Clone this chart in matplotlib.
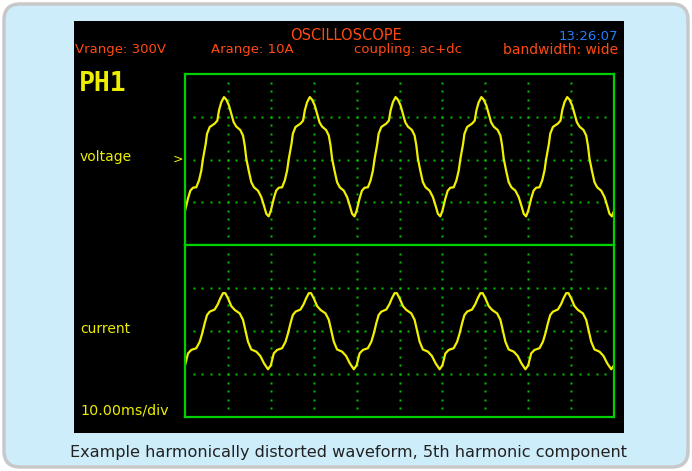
import numpy as np
import matplotlib
matplotlib.use('Agg')
import matplotlib.pyplot as plt
from matplotlib.patches import FancyBboxPatch, Rectangle

# one cycle (time in ms, amplitude in divisions)
cycle_t = [0.0, 0.7, 1.24, 1.86, 2.63, 3.26, 3.8, 4.2, 4.83, 5.13, 5.76, 6.92,
           7.53, 7.93, 8.46, 9.09, 9.63, 10.26, 10.79, 11.35, 11.96, 12.89,
           13.52, 13.92, 14.29, 14.85, 15.45, 16.08, 17.02, 17.79, 18.41,
           18.95, 19.51]
voltage_cycle = [-1.2, -0.91, -0.73, -0.66, -0.65, -0.49, -0.26, 0.02, 0.37,
                 0.6, 0.76, 0.84, 0.91, 1.15, 1.34, 1.46, 1.4, 1.26, 1.07,
                 0.87, 0.77, 0.69, 0.56, 0.33, 0.02, -0.26, -0.53, -0.65,
                 -0.73, -0.88, -1.08, -1.27, -1.33]

cycle_t_i = [0.0, 0.7, 1.47, 2.63, 3.43, 4.03, 4.59, 5.13, 5.76, 6.92, 7.69,
             8.23, 8.86, 9.39, 10.02, 10.79, 11.59, 12.75, 13.52, 14.06,
             14.69, 15.45, 16.62, 17.55, 18.41, 19.35]
current_cycle = [-0.8, -0.52, -0.44, -0.4, -0.25, -0.05, 0.18, 0.37, 0.45,
                 0.5, 0.63, 0.76, 0.88, 0.88, 0.76, 0.58, 0.49, 0.41, 0.26,
                 0.02, -0.25, -0.43, -0.48, -0.58, -0.75, -0.89]

period_ms = 20
n_cycles = 5
ms_per_div = 10
n_xdiv = 10
n_ydiv = 4

header_labels = ['Vrange: 300V', 'Arange: 10A', 'coupling: ac+dc', 'bandwidth: wide']
channel_labels = ['voltage', 'current']
clock = '13:26:07'
caption = 'Example harmonically distorted waveform, 5th harmonic component'


def repeat_cycle(t, y):
    tt = np.concatenate([np.array(t) + k * period_ms for k in range(n_cycles)] + [[n_cycles * period_ms]])
    yy = np.concatenate([y] * n_cycles + [[y[0]]])
    return tt, yy


W, H = 692, 471
fig = plt.figure(figsize=(W / 100, H / 100), dpi=100)
fig.patch.set_facecolor('white')

bg = fig.add_axes([0, 0, 1, 1])
bg.set_xlim(0, W)
bg.set_ylim(H, 0)
bg.axis('off')

bg.add_patch(FancyBboxPatch((4, 4), W - 8, H - 8, boxstyle='round,pad=0,rounding_size=16',
                            facecolor='#cdedfa', edgecolor='#c8c8c8', linewidth=2.5))
bg.add_patch(Rectangle((74, 21), 550, 412, facecolor='black', edgecolor='none'))

orange = '#ff4a10'
yellow = '#eded00'
green = '#00d000'
dot_green = '#00c000'
wave = '#f0f000'

bg.text(346, 36, 'OSCILLOSCOPE', color=orange, fontsize=10.5, ha='center', va='center')
bg.text(618, 36, clock, color='#2080ff', fontsize=9.5, ha='right', va='center')
bg.text(75, 50, header_labels[0], color=orange, fontsize=9.5, ha='left', va='center')
bg.text(211, 50, header_labels[1], color=orange, fontsize=9.5, ha='left', va='center')
bg.text(354, 50, header_labels[2], color=orange, fontsize=9.5, ha='left', va='center')
bg.text(618, 50, header_labels[3], color=orange, fontsize=10, ha='right', va='center')

bg.text(79, 84, 'PH1', color=yellow, fontsize=19, fontweight='bold',
        family='DejaVu Sans Mono', ha='left', va='center')
bg.text(80, 157, channel_labels[0], color=yellow, fontsize=10, ha='left', va='center')
bg.text(178, 159, '>', color=yellow, fontsize=9, ha='center', va='center')
bg.text(80, 329, channel_labels[1], color=yellow, fontsize=10, ha='left', va='center')
bg.text(80, 411, f'{ms_per_div:.2f}ms/div', color=yellow, fontsize=10.3, ha='left', va='center')

bg.text(348, 452, caption, color='#222222', fontsize=11.6, ha='center', va='center')

left, right = 185, 614
top, mid, bottom = 74, 245, 417
panels = [(top, mid, voltage_cycle, cycle_t), (mid, bottom, current_cycle, cycle_t_i)]

xmax = n_xdiv * ms_per_div
xdots = np.arange(2, xmax, 2)
ydots = np.arange(-1.8, 1.81, 0.2)

for y0, y1, vals, ts in panels:
    ax = fig.add_axes([left / W, (H - y1) / H, (right - left) / W, (y1 - y0) / H])
    ax.set_facecolor('black')
    ax.set_xlim(0, xmax)
    ax.set_ylim(-n_ydiv / 2, n_ydiv / 2)
    ax.set_xticks([])
    ax.set_yticks([])
    for s in ax.spines.values():
        s.set_color(green)
        s.set_linewidth(1.6)
    for gy in (-1, 0, 1):
        ax.plot(xdots, np.full_like(xdots, gy, dtype=float), ls='none', marker='s',
                ms=1.9, mec='none', mfc=dot_green)
    for gx in range(ms_per_div, xmax, ms_per_div):
        ax.plot(np.full_like(ydots, gx), ydots, ls='none', marker='s',
                ms=1.9, mec='none', mfc=dot_green)
    tt, yy = repeat_cycle(ts, vals)
    ax.plot(tt, yy, color=wave, lw=1.6, clip_on=True)

fig.savefig('out.png', dpi=100, facecolor='white')
